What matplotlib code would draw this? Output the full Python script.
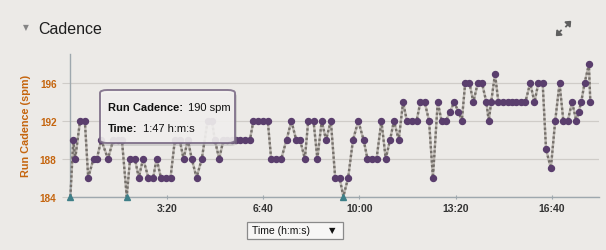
import matplotlib
matplotlib.use('Agg')
import matplotlib.pyplot as plt
from matplotlib.patches import FancyBboxPatch, Polygon
from matplotlib.ticker import FuncFormatter

# elapsed time (s) and run cadence (spm)
secs = [0, 6, 10, 20, 30, 37, 48, 55, 64, 78, 89, 98, 107, 117, 124, 134,
        142, 151, 162, 172, 179, 188, 198, 208, 217, 227, 235, 244, 252, 262,
        273, 285, 294, 300, 309, 318, 326, 335, 343, 352, 363, 373, 380, 390,
        401, 410, 417, 427, 438, 449, 459, 469, 477, 487, 494, 505, 513, 522,
        531, 541, 550, 559, 567, 577, 587, 598, 609, 617, 627, 636, 646, 655,
        664, 672, 682, 691, 699, 709, 719, 727, 736, 745, 753, 763, 771, 780,
        789, 797, 806, 813, 820, 829, 837, 846, 855, 864, 869, 874, 882, 889,
        898, 908, 917, 926, 935, 945, 955, 964, 972, 981, 988, 998, 1007, 1016,
        1024, 1033, 1042, 1051, 1056, 1061, 1068, 1077, 1080]
cadence = [184, 190, 188, 192, 192, 186, 188, 188, 190, 188, 190, 190, 190,
           184, 188, 188, 186, 188, 186, 186, 188, 186, 186, 186, 190, 190,
           188, 190, 188, 186, 188, 192, 192, 190, 188, 190, 190, 190, 190,
           190, 190, 190, 192, 192, 192, 192, 188, 188, 188, 190, 192, 190,
           190, 188, 192, 192, 188, 192, 190, 192, 186, 186, 184, 186, 190,
           192, 190, 188, 188, 188, 192, 188, 190, 192, 190, 194, 192, 192,
           192, 194, 194, 192, 186, 194, 192, 192, 193, 194, 193, 192, 196,
           196, 194, 196, 196, 194, 192, 194, 197, 194, 194, 194, 194, 194,
           194, 194, 196, 194, 196, 196, 189, 187, 192, 196, 192, 192, 194,
           192, 193, 194, 196, 198, 194]

y_ticks = [184, 188, 192, 196]
x_ticks = [200, 400, 600, 800, 1000]

BG = '#ECEAE7'
ORANGE = '#C5650E'
PURPLE = '#5A3E6D'
TEAL = '#3E7F88'
AXIS = '#9EA8AE'
GRID = '#CFCCC8'

plt.rcParams['font.family'] = ['Liberation Sans', 'DejaVu Sans']

W, H = 606, 251
fig = plt.figure(figsize=(W / 100, H / 100), dpi=100, facecolor=BG)


def fx(px):
    return px / W


def fy(py):
    return 1 - py / H


ax = fig.add_axes([fx(70.4), fy(197.5), fx(599) - fx(70.4), fy(55) - fy(197.5)])
ax.set_facecolor(BG)
ax.set_xlim(0, 1098)
ax.set_ylim(184, 199.1)

ax.plot(secs, cadence, color='#bdb8b2', lw=1.7, zorder=2, clip_on=False)
ax.plot(secs, cadence, color='#75706b', lw=1.7, ls=(0, (1, 1)), zorder=3,
        clip_on=False)
lo = min(cadence)
xs = [t for t, c in zip(secs, cadence) if c != lo]
ys = [c for c in cadence if c != lo]
ax.plot(xs, ys, 'o', color=PURPLE, ms=4.3, mec=PURPLE, zorder=4, clip_on=False)
xm = [t for t, c in zip(secs, cadence) if c == lo]
ax.plot(xm, [lo] * len(xm), '^', color=TEAL, ms=4.5, zorder=5, clip_on=False)

ax.set_yticks(y_ticks)
ax.set_xticks(x_ticks)
ax.xaxis.set_major_formatter(FuncFormatter(lambda v, p: '%d:%02d' % (v // 60, v % 60)))
ax.grid(axis='y', color=GRID, lw=0.9, zorder=1)
ax.set_axisbelow(True)
for s in ['top', 'right']:
    ax.spines[s].set_visible(False)
for s in ['left', 'bottom']:
    ax.spines[s].set_color(AXIS)
    ax.spines[s].set_linewidth(1.0)
ax.tick_params(axis='y', length=6, color=GRID, pad=4, labelsize=7.2,
               labelcolor=ORANGE)
ax.tick_params(axis='x', length=3.5, direction='inout', color=AXIS, pad=3,
               labelsize=7.5, labelcolor='#333333')
for lab in ax.get_yticklabels() + ax.get_xticklabels():
    lab.set_fontweight('bold')

fig.text(fx(26), fy(126), 'Run Cadence (spm)', rotation=90, ha='center',
         va='center', fontsize=7.8, fontweight='bold', color=ORANGE)

# header
fig.text(fx(38), fy(33.5), 'Cadence', fontsize=11.5, color='#1e1e1e',
         va='baseline')
fig.text(fx(26), fy(28), '\u25BC', fontsize=5.5, color='#858585',
         ha='center', va='center', family='DejaVu Sans')

# expand icon: two small diagonal arrows with a gap between them
ic = '#5f5f5f'
fig.patches.append(Polygon([(fx(570.5), fy(22.5)), (fx(565), fy(23)), (fx(570), fy(28))],
                           closed=True, transform=fig.transFigure, color=ic))
fig.lines.append(plt.Line2D([fx(566), fx(568.5)], [fy(27.5), fy(25)], color=ic, lw=1.3,
                            transform=fig.transFigure))
fig.patches.append(Polygon([(fx(556.5), fy(36.5)), (fx(562), fy(36)), (fx(557), fy(31))],
                           closed=True, transform=fig.transFigure, color=ic))
fig.lines.append(plt.Line2D([fx(558.5), fx(561)], [fy(34), fy(31.5)], color=ic, lw=1.3,
                            transform=fig.transFigure))

# tooltip
shadow = FancyBboxPatch((fx(102), fy(147)), fx(235) - fx(100), fy(91) - fy(144),
                        boxstyle='round,pad=0,rounding_size=0.012',
                        transform=fig.transFigure, fc='#9a9a9a', ec='none',
                        alpha=0.35, zorder=5)
tip = FancyBboxPatch((fx(100), fy(144)), fx(235) - fx(100), fy(91) - fy(144),
                     boxstyle='round,pad=0,rounding_size=0.012',
                     transform=fig.transFigure, fc='#f4f2f1', ec='#7b6b86',
                     lw=1.4, alpha=0.88, zorder=6)
fig.patches.extend([shadow, tip])
fig.text(fx(108), fy(108), 'Run Cadence:', fontsize=8, fontweight='bold',
         color='#111111', va='center', zorder=7)
fig.text(fx(187.5), fy(108), '190 spm', fontsize=8, color='#111111',
         va='center', zorder=7)
fig.text(fx(108), fy(129.5), 'Time:', fontsize=8, fontweight='bold',
         color='#111111', va='center', zorder=7)
fig.text(fx(143), fy(129.5), '1:47 h:m:s', fontsize=8, color='#111111',
         va='center', zorder=7)

# axis selector
sel = FancyBboxPatch((fx(246.5), fy(239.5)), fx(342.5) - fx(246.5), fy(222.5) - fy(239.5),
                     boxstyle='square,pad=0', transform=fig.transFigure,
                     fc='#f7f6f5', ec='#8a8a8a', lw=0.9, zorder=5)
fig.patches.append(sel)
fig.text(fx(251.5), fy(231.5), 'Time (h:m:s)', fontsize=7.5, color='#111111',
         va='center', zorder=6)
fig.text(fx(332), fy(231), '\u25BC', fontsize=6, color='#111111',
         ha='center', va='center', family='DejaVu Sans', zorder=6)

fig.savefig('out.png', dpi=100, facecolor=BG)
